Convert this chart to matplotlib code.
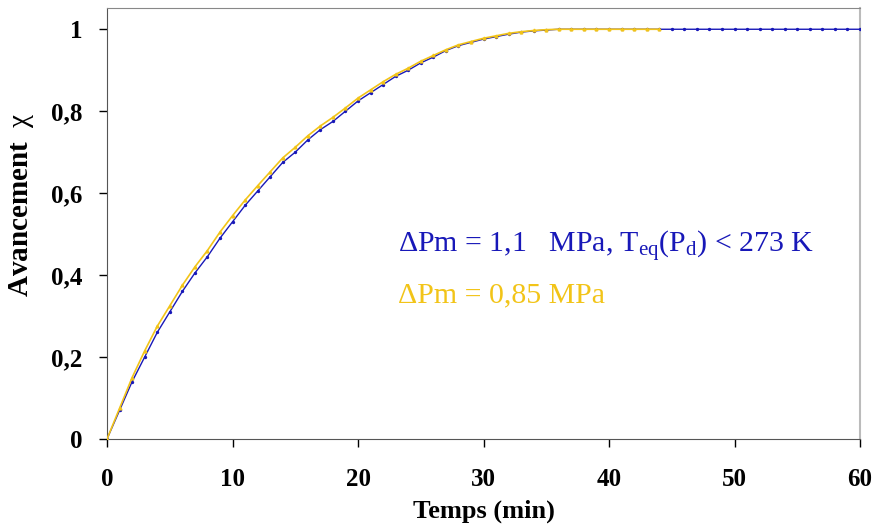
import numpy as np
import matplotlib
matplotlib.use("Agg")
import matplotlib.pyplot as plt

# temps (min) / avancement
t_blue = list(range(0, 61))
x_blue = [0.0, 0.07, 0.14, 0.20, 0.26, 0.31, 0.36, 0.405, 0.445, 0.49,
          0.53, 0.57, 0.605, 0.64, 0.675, 0.70, 0.73, 0.755, 0.775, 0.80,
          0.825, 0.845, 0.865, 0.885, 0.90, 0.918, 0.932, 0.948, 0.96, 0.968,
          0.976, 0.982, 0.988, 0.993, 0.996, 0.998] + [1.0] * 25

t_yellow = list(range(0, 45))
x_yellow = [0.0, 0.075, 0.15, 0.215, 0.275, 0.325, 0.375, 0.42, 0.46, 0.505,
            0.545, 0.583, 0.618, 0.652, 0.686, 0.712, 0.74, 0.764, 0.785, 0.808,
            0.832, 0.852, 0.872, 0.89, 0.905, 0.922, 0.936, 0.95, 0.962, 0.97,
            0.978, 0.984, 0.99, 0.994, 0.997, 0.999] + [1.0] * 9

xticks = [0, 10, 20, 30, 40, 50, 60]
yticks = [0, 0.2, 0.4, 0.6, 0.8, 1.0]
ytick_labels = ["0", "0,2", "0,4", "0,6", "0,8", "1"]

blue = "#1818b8"
yellow = "#f2c418"

plt.rcParams["font.family"] = "Liberation Serif"
plt.rcParams["mathtext.fontset"] = "custom"
plt.rcParams["mathtext.rm"] = "Liberation Serif"
plt.rcParams["mathtext.it"] = "Liberation Serif:italic"

fig = plt.figure(figsize=(8.75, 5.3), dpi=100)
ax = fig.add_axes([0.1223, 0.1717, 0.8606, 0.8133])

ax.plot(t_blue, x_blue, color=blue, lw=1.0, marker="o", ms=1.4, mec=blue, zorder=3)
ax.plot(t_yellow, x_yellow, color=yellow, lw=1.2, marker="^", ms=2.0, mec=yellow, zorder=4)

ax.set_xlim(0, 60)
ax.set_ylim(0, 1.052)
ax.set_xticks(xticks)
ax.set_yticks(yticks)
ax.set_yticklabels(ytick_labels)
for lab in ax.get_xticklabels() + ax.get_yticklabels():
    lab.set_fontweight("bold")
    lab.set_fontsize(18)
ax.tick_params(axis="x", direction="out", length=6, width=1, pad=15, colors="black")
ax.tick_params(axis="y", direction="out", length=6, width=1, pad=12, colors="black")

ax.spines["left"].set_color("#555555")
ax.spines["bottom"].set_color("#555555")
ax.spines["top"].set_color("#888888")
ax.spines["right"].set_color("#bbbbbb")
ax.spines["right"].set_linewidth(1.5)

ax.set_xlabel("Temps (min)", fontsize=19, fontweight="bold", labelpad=6)
ax.set_ylabel(r"Avancement  $\mathrm{\chi}$", fontsize=21, fontweight="bold")
ax.yaxis.set_label_coords(-0.094, 0.543)

ax.text(0.386, 0.432, r"ΔPm = 1,1   MPa, T$_{\mathrm{eq}}$(P$_{\mathrm{d}}$) < 273 K",
        transform=ax.transAxes, color=blue, fontsize=21.5, va="baseline", ha="left")
ax.text(0.386, 0.318, "ΔPm = 0,85 MPa",
        transform=ax.transAxes, color=yellow, fontsize=21.5, va="baseline", ha="left")

fig.savefig("out.png", dpi=100)
